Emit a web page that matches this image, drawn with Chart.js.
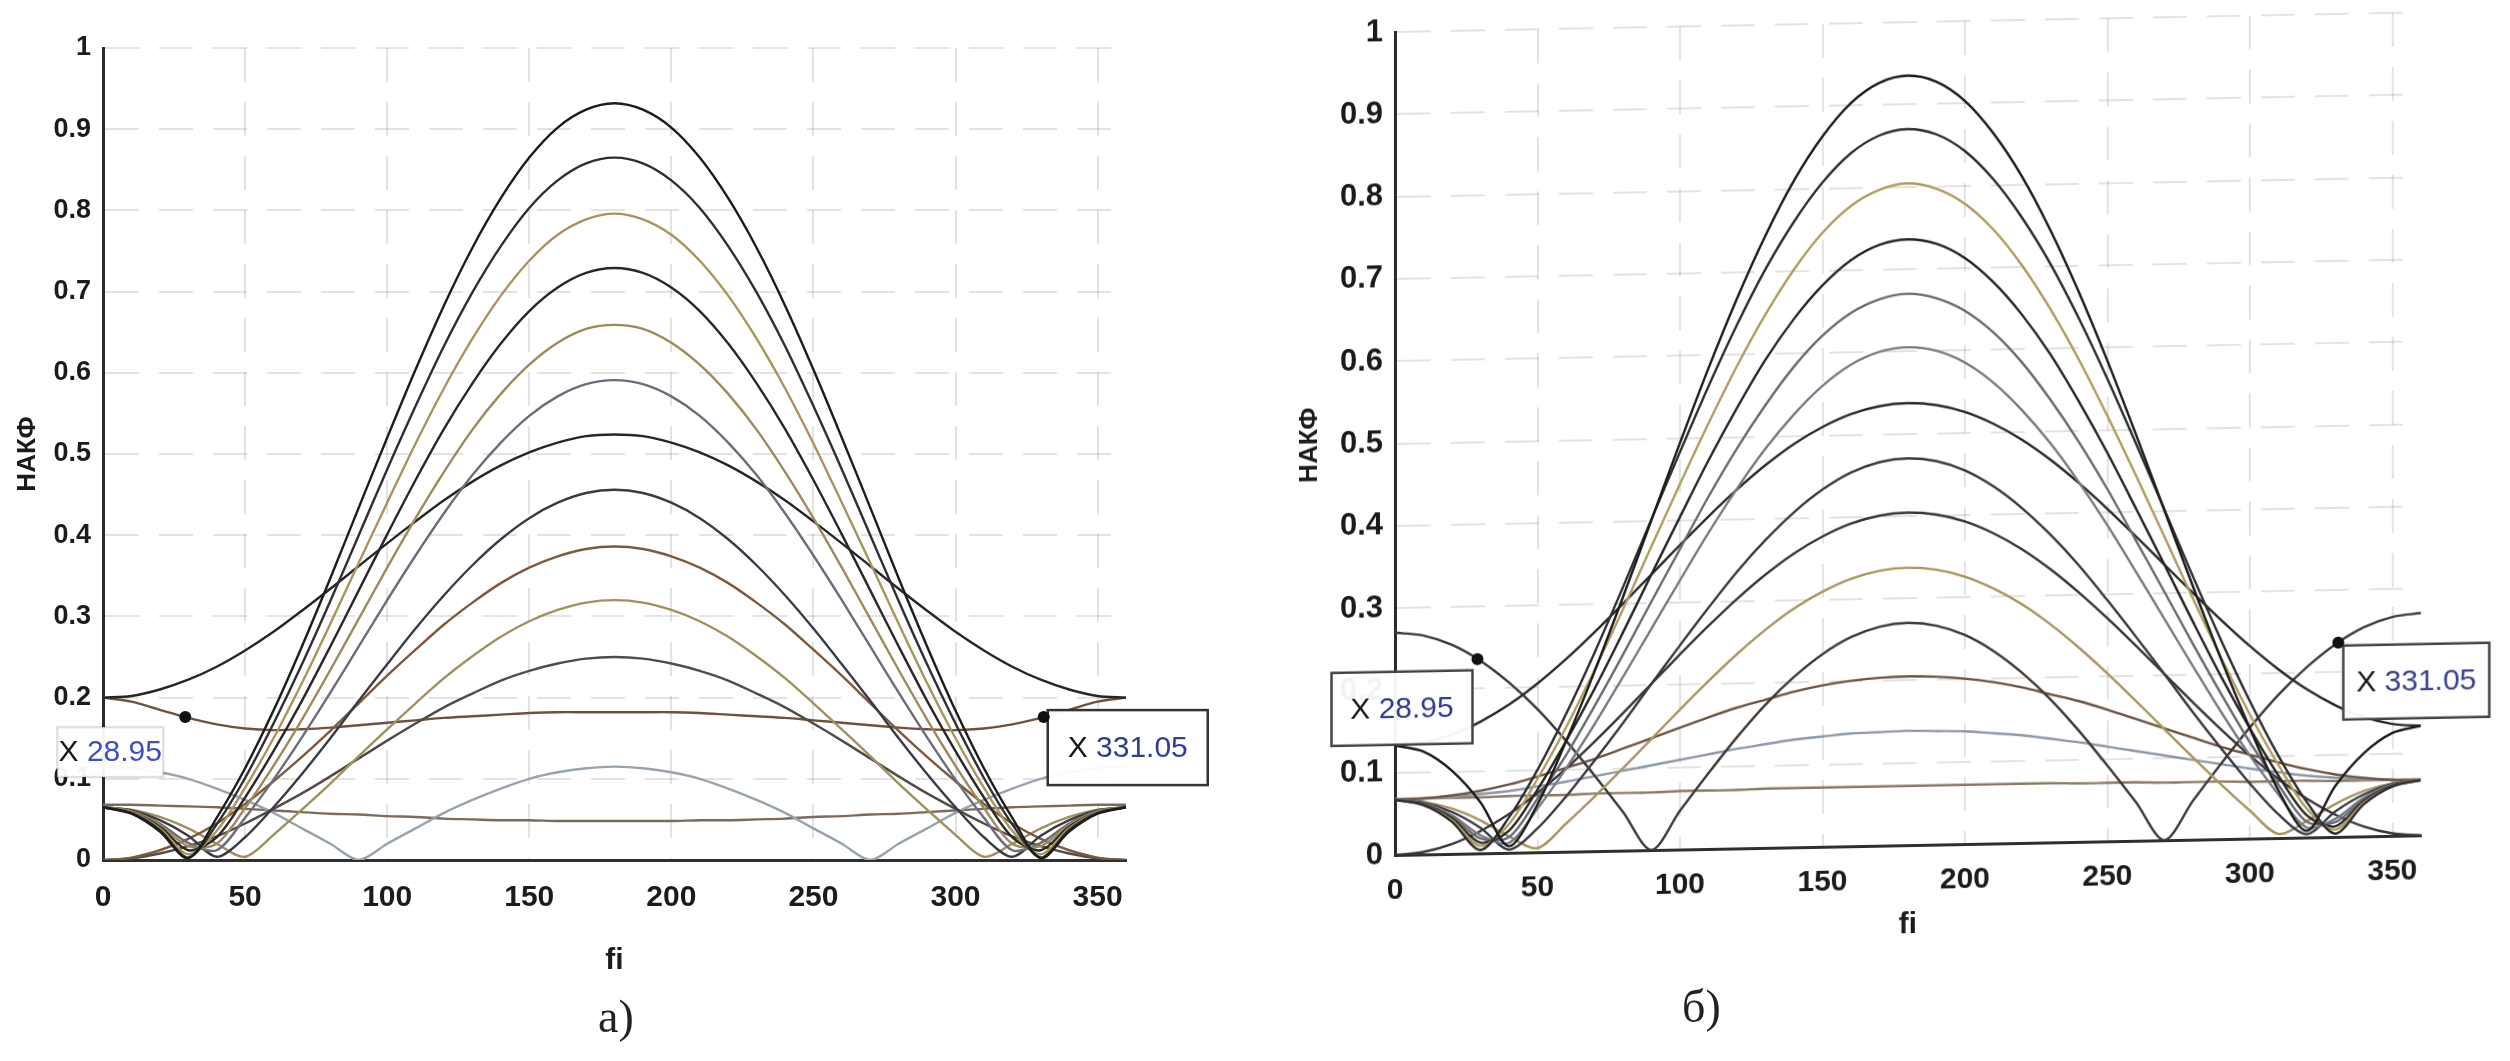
<!DOCTYPE html>
<html>
<head>
<meta charset="utf-8">
<script src="https://cdn.jsdelivr.net/npm/chart.js@4/dist/chart.umd.min.js"></script>
<style>
  html, body { margin: 0; padding: 0; background: #fff; }
  body { width: 2510px; height: 1061px; position: relative; overflow: hidden; }
  .panel { position: absolute; top: 0; width: 1255px; height: 1061px; }
  #panelA { left: 0; }
  /* правый рисунок снят с небольшим перекосом */
  #panelB { left: 1255px; transform: skewY(-1.1deg); transform-origin: 140px 855px; }
  .caption { position: absolute; font-family: 'Liberation Serif', 'Times New Roman', serif; font-size: 46px; color: #222; }
</style>
</head>
<body>
<div class="panel" id="panelA"><canvas id="chartA" width="1255" height="1061"></canvas></div>
<div class="panel" id="panelB"><canvas id="chartB" width="1255" height="1061"></canvas></div>
<div class="caption" style="left:598px; top:990px;">а)</div>
<div class="caption" style="left:1682px; top:980px;">б)</div>
<script>
// ---- данные ----
const phiDeg = [0,10,20,30,40,50,60,70,80,90,100,110,120,130,140,150,160,170,180,
                190,200,210,220,230,240,250,260,270,280,290,300,310,320,330,340,350,360];
const xTicks = [0, 50, 100, 150, 200, 250, 300, 350];
const yTicks = [0, 0.1, 0.2, 0.3, 0.4, 0.5, 0.6, 0.7, 0.8, 0.9, 1];
const yTickLabels = ['0','0.1','0.2','0.3','0.4','0.5','0.6','0.7','0.8','0.9','1'];

// НАКФ по сдвигам, рисунок а)
const nacfA = [
  [0.065,0.057,0.035,0.002,0.052,0.113,0.184,0.263,0.347,0.434,0.520,0.604,0.683,0.754,0.815,0.865,0.902,0.924,0.932,0.924,0.902,0.865,0.815,0.754,0.683,0.604,0.520,0.434,0.347,0.263,0.184,0.113,0.052,0.002,0.035,0.057,0.065],
  [0.065,0.058,0.037,0.003,0.044,0.101,0.168,0.241,0.319,0.400,0.481,0.559,0.633,0.699,0.756,0.803,0.837,0.858,0.865,0.858,0.837,0.803,0.756,0.699,0.633,0.559,0.481,0.400,0.319,0.241,0.168,0.101,0.044,0.003,0.037,0.058,0.065],
  [0.065,0.059,0.039,0.007,0.036,0.089,0.150,0.218,0.291,0.366,0.440,0.513,0.581,0.642,0.695,0.738,0.770,0.789,0.796,0.789,0.770,0.738,0.695,0.642,0.581,0.513,0.440,0.366,0.291,0.218,0.150,0.089,0.036,0.007,0.039,0.059,0.065],
  [0.065,0.059,0.041,0.012,0.028,0.077,0.134,0.196,0.263,0.332,0.401,0.468,0.531,0.587,0.636,0.676,0.705,0.723,0.729,0.723,0.705,0.676,0.636,0.587,0.531,0.468,0.401,0.332,0.263,0.196,0.134,0.077,0.028,0.012,0.041,0.059,0.065],
  [0.065,0.060,0.043,0.017,0.020,0.064,0.116,0.173,0.234,0.297,0.360,0.421,0.478,0.530,0.574,0.610,0.637,0.654,0.659,0.654,0.637,0.610,0.574,0.530,0.478,0.421,0.360,0.297,0.234,0.173,0.116,0.064,0.020,0.017,0.043,0.060,0.065],
  [0.065,0.060,0.045,0.021,0.012,0.052,0.099,0.151,0.206,0.263,0.320,0.375,0.427,0.474,0.514,0.547,0.571,0.586,0.591,0.586,0.571,0.547,0.514,0.474,0.427,0.375,0.320,0.263,0.206,0.151,0.099,0.052,0.012,0.021,0.045,0.060,0.065],
  [0.200,0.202,0.210,0.222,0.238,0.258,0.281,0.307,0.334,0.362,0.390,0.417,0.443,0.466,0.486,0.502,0.514,0.522,0.524,0.522,0.514,0.502,0.486,0.466,0.443,0.417,0.390,0.362,0.334,0.307,0.281,0.258,0.238,0.222,0.210,0.202,0.200],
  [0.065,0.061,0.049,0.030,0.004,0.028,0.065,0.106,0.150,0.196,0.241,0.285,0.326,0.363,0.395,0.421,0.440,0.452,0.456,0.452,0.440,0.421,0.395,0.363,0.326,0.285,0.241,0.196,0.150,0.106,0.065,0.028,0.004,0.030,0.049,0.061,0.065],
  [0.000,0.003,0.012,0.026,0.045,0.069,0.097,0.127,0.159,0.193,0.227,0.259,0.290,0.317,0.341,0.360,0.374,0.383,0.386,0.383,0.374,0.360,0.341,0.317,0.290,0.259,0.227,0.193,0.159,0.127,0.097,0.069,0.045,0.026,0.012,0.003,0.000],
  [0.065,0.062,0.053,0.039,0.020,0.004,0.031,0.062,0.094,0.128,0.161,0.193,0.224,0.251,0.275,0.294,0.308,0.317,0.320,0.317,0.308,0.294,0.275,0.251,0.224,0.193,0.161,0.128,0.094,0.062,0.031,0.004,0.020,0.039,0.053,0.062,0.065],
  [0.000,0.002,0.008,0.017,0.029,0.045,0.063,0.082,0.103,0.125,0.147,0.168,0.188,0.205,0.221,0.233,0.242,0.248,0.250,0.248,0.242,0.233,0.221,0.205,0.188,0.168,0.147,0.125,0.103,0.082,0.063,0.045,0.029,0.017,0.008,0.002,0.000],
  [0.200,0.195,0.185,0.175,0.167,0.162,0.160,0.161,0.163,0.166,0.169,0.172,0.175,0.177,0.179,0.181,0.182,0.182,0.182,0.182,0.182,0.181,0.179,0.177,0.175,0.172,0.169,0.166,0.163,0.161,0.160,0.162,0.167,0.175,0.185,0.195,0.200],
  [0.115,0.113,0.108,0.100,0.088,0.074,0.058,0.039,0.020,0.000,0.020,0.039,0.058,0.074,0.088,0.100,0.108,0.113,0.115,0.113,0.108,0.100,0.088,0.074,0.058,0.039,0.020,0.000,0.020,0.039,0.058,0.074,0.088,0.100,0.108,0.113,0.115],
  [0.068,0.068,0.067,0.066,0.065,0.063,0.061,0.059,0.057,0.056,0.054,0.053,0.051,0.050,0.049,0.049,0.048,0.048,0.048,0.048,0.048,0.049,0.049,0.050,0.051,0.053,0.054,0.056,0.057,0.059,0.061,0.063,0.065,0.066,0.067,0.068,0.068]
];

// НАКФ по сдвигам, рисунок б)
const nacfB = [
  [0.133,0.125,0.101,0.062,0.008,0.058,0.134,0.218,0.308,0.401,0.494,0.584,0.668,0.744,0.810,0.863,0.903,0.927,0.935,0.927,0.903,0.863,0.810,0.744,0.668,0.584,0.494,0.401,0.308,0.218,0.134,0.058,0.008,0.062,0.101,0.125,0.133],
  [0.067,0.060,0.039,0.004,0.043,0.100,0.167,0.241,0.320,0.402,0.483,0.562,0.636,0.703,0.760,0.807,0.842,0.863,0.870,0.863,0.842,0.807,0.760,0.703,0.636,0.562,0.483,0.402,0.320,0.241,0.167,0.100,0.043,0.004,0.039,0.060,0.067],
  [0.067,0.060,0.041,0.009,0.035,0.089,0.151,0.220,0.293,0.369,0.444,0.517,0.586,0.648,0.702,0.746,0.778,0.797,0.804,0.797,0.778,0.746,0.702,0.648,0.586,0.517,0.444,0.369,0.293,0.220,0.151,0.089,0.035,0.009,0.041,0.060,0.067],
  [0.067,0.061,0.043,0.013,0.027,0.076,0.134,0.197,0.265,0.335,0.404,0.472,0.535,0.593,0.642,0.682,0.712,0.730,0.736,0.730,0.712,0.682,0.642,0.593,0.535,0.472,0.404,0.335,0.265,0.197,0.134,0.076,0.027,0.013,0.043,0.061,0.067],
  [0.067,0.061,0.045,0.018,0.019,0.065,0.117,0.176,0.238,0.302,0.365,0.428,0.486,0.538,0.584,0.621,0.648,0.664,0.670,0.664,0.648,0.621,0.584,0.538,0.486,0.428,0.365,0.302,0.238,0.176,0.117,0.065,0.019,0.018,0.045,0.061,0.067],
  [0.067,0.062,0.047,0.022,0.012,0.053,0.101,0.154,0.211,0.269,0.327,0.384,0.437,0.485,0.526,0.560,0.585,0.600,0.605,0.600,0.585,0.560,0.526,0.485,0.437,0.384,0.327,0.269,0.211,0.154,0.101,0.053,0.012,0.022,0.047,0.062,0.067],
  [0.133,0.136,0.145,0.160,0.180,0.205,0.234,0.266,0.300,0.335,0.370,0.404,0.436,0.465,0.490,0.510,0.525,0.534,0.537,0.534,0.525,0.510,0.490,0.465,0.436,0.404,0.370,0.335,0.300,0.266,0.234,0.205,0.180,0.160,0.145,0.136,0.133],
  [0.067,0.063,0.051,0.031,0.004,0.029,0.067,0.110,0.155,0.202,0.248,0.293,0.336,0.374,0.407,0.434,0.454,0.466,0.470,0.466,0.454,0.434,0.407,0.374,0.336,0.293,0.248,0.202,0.155,0.110,0.067,0.029,0.004,0.031,0.051,0.063,0.067],
  [0.000,0.003,0.012,0.027,0.047,0.072,0.101,0.133,0.167,0.202,0.237,0.271,0.303,0.332,0.357,0.377,0.392,0.401,0.404,0.401,0.392,0.377,0.357,0.332,0.303,0.271,0.237,0.202,0.167,0.133,0.101,0.072,0.047,0.027,0.012,0.003,0.000],
  [0.067,0.064,0.055,0.040,0.020,0.005,0.034,0.066,0.100,0.135,0.170,0.204,0.236,0.265,0.290,0.310,0.325,0.334,0.337,0.334,0.325,0.310,0.290,0.265,0.236,0.204,0.170,0.135,0.100,0.066,0.034,0.005,0.020,0.040,0.055,0.064,0.067],
  [0.270,0.266,0.254,0.234,0.207,0.174,0.135,0.092,0.047,0.000,0.047,0.092,0.135,0.174,0.207,0.234,0.254,0.266,0.270,0.266,0.254,0.234,0.207,0.174,0.135,0.092,0.047,0.000,0.047,0.092,0.135,0.174,0.207,0.234,0.254,0.266,0.270],
  [0.067,0.068,0.071,0.076,0.083,0.092,0.102,0.112,0.124,0.136,0.148,0.160,0.171,0.180,0.189,0.196,0.201,0.204,0.205,0.204,0.201,0.196,0.189,0.180,0.171,0.160,0.148,0.136,0.124,0.112,0.102,0.092,0.083,0.076,0.071,0.068,0.067],
  [0.067,0.068,0.069,0.072,0.075,0.080,0.085,0.091,0.097,0.103,0.109,0.115,0.121,0.126,0.131,0.134,0.137,0.138,0.139,0.138,0.137,0.134,0.131,0.126,0.121,0.115,0.109,0.103,0.097,0.091,0.085,0.080,0.075,0.072,0.069,0.068,0.067],
  [0.068,0.068,0.068,0.068,0.069,0.069,0.069,0.070,0.070,0.070,0.071,0.071,0.071,0.072,0.072,0.072,0.072,0.072,0.072,0.072,0.072,0.072,0.072,0.072,0.071,0.071,0.071,0.070,0.070,0.070,0.069,0.069,0.069,0.068,0.068,0.068,0.068]
];

// метки данных (курсоры) X 28.95 / X 331.05
const tipPhiA = [28.95, 331.05];
const tipNacfA = [0.176, 0.176];
const tipPhiB = [28.95, 331.05];
const tipNacfB = [0.236, 0.236];

// цвета линий (выцветшая палитра MATLAB на печати)
const lineColorsA = ['#1c1c1c','#2e2e36','#a8955c','#2b2727','#9c8a5a','#6c6c7a','#262626',
                     '#3b3b47','#7b5a3e','#a09060','#524c46','#6f5141','#98a3b0','#7c6b5b'];
const lineColorsB = ['#1c1c1c','#2d2d33','#b09c5e','#292525','#6a6a74','#7a7a86','#2a2a2a',
                     '#3a3a46','#3b3535','#a89560','#3f3a36','#6d5443','#8d98a8','#8a7a62'];

Chart.defaults.font.family = "'Liberation Sans', Arial, sans-serif";

// курсор данных: точка + рамка с подписью
const datatipPlugin = {
  id: 'datatips',
  afterDatasetsDraw(chart, args, opts) {
    const { ctx, scales: { x, y } } = chart;
    (opts.tips || []).forEach(t => {
      const px = x.getPixelForValue(t.x);
      const py = y.getPixelForValue(t.y);
      const bx = px + t.dx, by = py + t.dy;
      ctx.save();
      ctx.fillStyle = 'rgba(255,255,255,0.95)';
      ctx.fillRect(bx, by, t.w, t.h);
      ctx.lineWidth = 2.5;
      ctx.strokeStyle = t.edge;
      ctx.strokeRect(bx, by, t.w, t.h);
      ctx.font = "30px 'Liberation Sans', Arial, sans-serif";
      ctx.textBaseline = 'middle';
      const pre = 'X ', num = t.x.toFixed(2);
      const w1 = ctx.measureText(pre).width, w2 = ctx.measureText(num).width;
      const tx = bx + (t.w - w1 - w2) / 2, ty = by + t.h / 2 + 1;
      ctx.fillStyle = '#161616';
      ctx.fillText(pre, tx, ty);
      ctx.fillStyle = t.numColor;
      ctx.fillText(num, tx + w1, ty);
      ctx.beginPath();
      ctx.arc(px, py, 6, 0, Math.PI * 2);
      ctx.fillStyle = '#111';
      ctx.fill();
      ctx.restore();
    });
  }
};

function buildChart(id, rows, colors, f, tips) {
  const datasets = rows.map((row, i) => ({
    data: row.map((v, j) => ({ x: phiDeg[j], y: v })),
    borderColor: colors[i],
    borderWidth: 2.4,
    pointRadius: 0,
    tension: 0.3,
    fill: false
  }));
  return new Chart(document.getElementById(id), {
    type: 'line',
    data: { datasets },
    options: {
      responsive: false,
      animation: false,
      devicePixelRatio: 1,
      layout: { padding: { left: 0, top: f.top, right: f.right, bottom: f.bottom } },
      plugins: { legend: { display: false }, tooltip: { enabled: false }, datatips: { tips } },
      scales: {
        x: {
          type: 'linear', min: 0, max: 360,
          afterBuildTicks: s => { s.ticks = xTicks.map(v => ({ value: v })); },
          afterFit: s => { s.height = f.xAxisH; },
          ticks: { autoSkip: false, maxRotation: 0, padding: f.xPad, color: '#1b1b1b',
                   font: { size: 30, weight: 'bold' }, callback: v => String(v) },
          grid: { color: 'rgba(90,90,90,0.17)', lineWidth: 2, drawTicks: false },
          border: { color: '#2f2f2f', width: 3, dash: [34, 20] },
          title: { display: true, text: 'fi', color: '#1b1b1b',
                   font: { size: 30, weight: 'bold' }, padding: { top: 0, bottom: 4 } }
        },
        y: {
          type: 'linear', min: 0, max: 1,
          afterBuildTicks: s => { s.ticks = yTicks.map(v => ({ value: v })); },
          afterFit: s => { s.width = f.yAxisW; },
          ticks: { autoSkip: false, padding: 12, color: '#1b1b1b',
                   font: { size: f.yFont, weight: 'bold' },
                   callback: v => yTickLabels[yTicks.indexOf(v)] },
          grid: { color: 'rgba(90,90,90,0.17)', lineWidth: 2, drawTicks: false },
          border: { color: '#2a2a2a', width: 3, dash: [34, 20] },
          title: { display: true, text: 'НАКФ', color: '#1b1b1b',
                   font: { size: 26, weight: 'bold' }, padding: { top: f.yTitlePad, bottom: 0 } }
        }
      }
    },
    plugins: [datatipPlugin]
  });
}

buildChart('chartA', nacfA, lineColorsA,
  { top: 48, right: 129, bottom: 78, xAxisH: 123, yAxisW: 103, xPad: 20, yTitlePad: 12, yFont: 27 },
  [
    { x: tipPhiA[0], y: tipNacfA[0], dx: -128, dy: 10, w: 106, h: 50, edge: 'rgba(0,0,0,0.12)', numColor: '#3d4fc0' },
    { x: tipPhiA[1], y: tipNacfA[1], dx: 4, dy: -7, w: 160, h: 75, edge: '#333', numColor: '#2f3d96' }
  ]);

buildChart('chartB', nacfB, lineColorsB,
  { top: 32, right: 89, bottom: 104, xAxisH: 102, yAxisW: 140, xPad: 18, yTitlePad: 39, yFont: 31 },
  [
    { x: tipPhiB[0], y: tipNacfB[0], dx: -146, dy: 11, w: 141, h: 73, edge: '#444', numColor: '#2f3d96' },
    { x: tipPhiB[1], y: tipNacfB[1], dx: 5, dy: 3, w: 146, h: 74, edge: '#444', numColor: '#3a4190' }
  ]);
</script>
</body>
</html>
